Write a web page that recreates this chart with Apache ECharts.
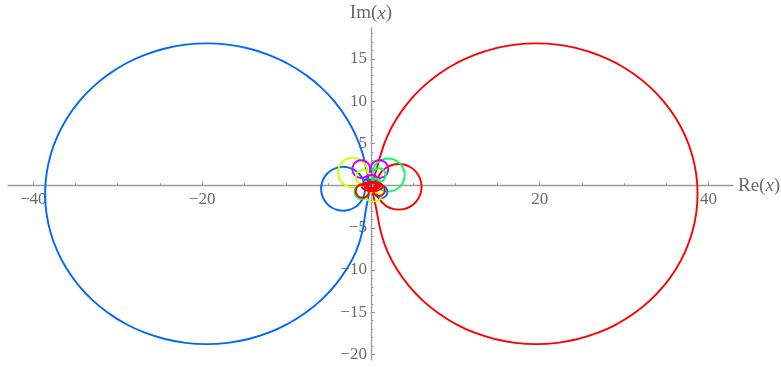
<!DOCTYPE html>
<html>
<head>
<meta charset="utf-8">
<script src="https://cdn.jsdelivr.net/npm/echarts@6/dist/echarts.min.js"></script>
<style>
html,body{margin:0;padding:0;background:#fff;}
#chart{width:781px;height:367px;}
</style>
</head>
<body>
<div id="chart"></div>
<script>
// ---- tick labels ----
const xMajorTicks = [-40, -20, 20, 40];
const xMinorTicks = [-40, -35, -30, -25, -20, -15, -10, -5, 5, 10, 15, 20, 25, 30, 35, 40];
const yMajorTicks = [-20, -15, -10, -5, 5, 10, 15];
const yMinorTicks = [-20,-19,-18,-17,-16,-15,-14,-13,-12,-11,-10,-9,-8,-7,-6,-5,-4,-3,-2,-1,1,2,3,4,5,6,7,8,9,10,11,12,13,14,15,16,17,18];

// ---- curves (Re, Im) ----
const blueBig = [[0,0],[-0.5,1.7],[-0.95,3.64],[-1.76,5.84],[-2.87,7.93],[-4.26,9.87],[-5.91,11.62],[-7.79,13.15],[-9.88,14.45],[-12.12,15.48],[-14.49,16.22],[-16.95,16.68],[-19.45,16.83],[-21.95,16.68],[-24.41,16.22],[-26.78,15.48],[-29.03,14.45],[-31.11,13.15],[-32.99,11.62],[-34.64,9.87],[-36.03,7.93],[-37.14,5.84],[-37.95,3.64],[-38.44,1.35],[-38.60,-0.97],[-38.44,-3.29],[-37.95,-5.58],[-37.14,-7.78],[-36.03,-9.87],[-34.64,-11.81],[-32.99,-13.56],[-31.11,-15.09],[-29.03,-16.39],[-26.78,-17.42],[-24.41,-18.16],[-21.95,-18.62],[-19.45,-18.77],[-16.95,-18.62],[-14.49,-18.16],[-12.12,-17.42],[-9.88,-16.39],[-7.79,-15.09],[-5.91,-13.56],[-4.26,-11.81],[-2.87,-9.87],[-1.76,-7.78],[-1.05,-5.58],[-0.55,-2.6],[0,0]];
const redBig = [[0,0],[0.6,1.7],[1.15,3.64],[1.95,5.84],[3.06,7.93],[4.45,9.87],[6.09,11.62],[7.97,13.15],[10.05,14.45],[12.29,15.48],[14.66,16.22],[17.11,16.68],[19.60,16.83],[22.09,16.68],[24.54,16.22],[26.91,15.48],[29.15,14.45],[31.23,13.15],[33.11,11.62],[34.75,9.87],[36.14,7.93],[37.25,5.84],[38.05,3.64],[38.54,1.35],[38.70,-0.97],[38.54,-3.29],[38.05,-5.58],[37.25,-7.78],[36.14,-9.87],[34.75,-11.81],[33.11,-13.56],[31.23,-15.09],[29.15,-16.39],[26.91,-17.42],[24.54,-18.16],[22.09,-18.62],[19.60,-18.77],[17.11,-18.62],[14.66,-18.16],[12.29,-17.42],[10.05,-16.39],[7.97,-15.09],[6.09,-13.56],[4.45,-11.81],[3.06,-9.87],[1.95,-7.78],[1.2,-5.58],[0.6,-2.6],[0,0]];
const blueLoop = [[-0.70,-0.38],[-0.79,0.29],[-1.05,0.92],[-1.46,1.46],[-2.0,1.87],[-2.63,2.13],[-3.3,2.22],[-3.97,2.13],[-4.6,1.87],[-5.14,1.46],[-5.55,0.92],[-5.81,0.29],[-5.9,-0.38],[-5.81,-1.05],[-5.55,-1.68],[-5.14,-2.22],[-4.6,-2.63],[-3.97,-2.89],[-3.3,-2.98],[-2.63,-2.89],[-2.0,-2.63],[-1.46,-2.22],[-1.05,-1.68],[-0.79,-1.05],[-0.70,-0.38]];
const redLoop = [[0.6,-0.15],[0.69,0.55],[0.96,1.2],[1.39,1.76],[1.95,2.19],[2.6,2.46],[3.3,2.55],[4.0,2.46],[4.65,2.19],[5.21,1.76],[5.64,1.2],[5.91,0.55],[6.0,-0.15],[5.91,-0.85],[5.64,-1.5],[5.21,-2.06],[4.65,-2.49],[4.0,-2.76],[3.3,-2.85],[2.6,-2.76],[1.95,-2.49],[1.39,-2.06],[0.96,-1.5],[0.69,-0.85],[0.6,-0.15]];
const yellowLoop = [[-0.40,1.55],[-0.53,2.22],[-0.91,2.79],[-1.48,3.17],[-2.15,3.30],[-2.82,3.17],[-3.39,2.79],[-3.77,2.22],[-3.90,1.55],[-3.77,0.88],[-3.39,0.31],[-2.82,-0.07],[-2.15,-0.20],[-1.48,-0.07],[-0.91,0.31],[-0.53,0.88],[-0.40,1.55]];
const greenLoop = [[0.10,1.25],[0.25,2.0],[0.67,2.63],[1.30,3.05],[2.05,3.2],[2.80,3.05],[3.43,2.63],[3.85,2.0],[4.0,1.25],[3.85,0.50],[3.43,-0.13],[2.80,-0.55],[2.05,-0.70],[1.30,-0.55],[0.67,-0.13],[0.25,0.50],[0.10,1.25]];
const magentaLoopL = [[-0.1,1.95],[-0.24,2.48],[-0.63,2.86],[-1.15,3.0],[-1.68,2.86],[-2.06,2.48],[-2.2,1.95],[-2.06,1.43],[-1.68,1.04],[-1.15,0.9],[-0.63,1.04],[-0.24,1.43],[-0.1,1.95]];
const magentaLoopR = [[-0.05,1.95],[0.09,2.48],[0.48,2.86],[1.0,3.0],[1.53,2.86],[1.91,2.48],[2.05,1.95],[1.91,1.43],[1.53,1.04],[1.0,0.9],[0.48,1.04],[0.09,1.43],[-0.05,1.95]];
const greenInnerUp = [[0.15,1.25],[0.38,1.82],[0.95,2.05],[1.52,1.82],[1.75,1.25],[1.52,0.68],[0.95,0.45],[0.38,0.68],[0.15,1.25]];
const yellowInnerUp = [[-0.1,1.0],[-0.35,1.6],[-0.95,1.85],[-1.55,1.6],[-1.8,1.0],[-1.55,0.4],[-0.95,0.15],[-0.35,0.4],[-0.1,1.0]];
const greenInnerLow = [[-0.25,-0.75],[-0.5,-0.15],[-1.1,0.1],[-1.7,-0.15],[-1.95,-0.75],[-1.7,-1.35],[-1.1,-1.6],[-0.5,-1.35],[-0.25,-0.75]];
const blueInnerLow = [[0.45,-0.75],[0.67,-0.22],[1.2,0.0],[1.73,-0.22],[1.95,-0.75],[1.73,-1.28],[1.2,-1.5],[0.67,-1.28],[0.45,-0.75]];
const yellowInnerLow = [[-0.6,-1.35],[-0.34,-0.96],[0.3,-0.8],[0.94,-0.96],[1.2,-1.35],[0.94,-1.74],[0.3,-1.9],[-0.34,-1.74],[-0.6,-1.35]];
const magentaInner = [[-0.55,0.85],[-0.36,1.13],[0.1,1.25],[0.56,1.13],[0.75,0.85],[0.56,0.57],[0.1,0.45],[-0.36,0.57],[-0.55,0.85]];
const blueInnerUp = [[0.1,0.4],[-0.05,0.65],[-0.4,0.75],[-0.75,0.65],[-0.9,0.4],[-0.75,0.15],[-0.4,0.05],[-0.05,0.15],[0.1,0.4]];
const greenInnerMid = [[0.1,0.45],[0.25,0.7],[0.6,0.8],[0.95,0.7],[1.1,0.45],[0.95,0.2],[0.6,0.1],[0.25,0.2],[0.1,0.45]];
const redLowL = [[-0.2,-0.65],[-0.43,-0.08],[-1.0,0.15],[-1.57,-0.08],[-1.8,-0.65],[-1.57,-1.22],[-1.0,-1.45],[-0.43,-1.22],[-0.2,-0.65]];
const redLowR = [[0.25,-0.55],[0.45,-0.05],[0.95,0.15],[1.45,-0.05],[1.65,-0.55],[1.45,-1.05],[0.95,-1.25],[0.45,-1.05],[0.25,-0.55]];
const redEll1 = [[-1.1,-0.1],[-0.93,0.18],[-0.48,0.38],[0.15,0.45],[0.78,0.38],[1.23,0.18],[1.4,-0.1],[1.23,-0.38],[0.78,-0.58],[0.15,-0.65],[-0.48,-0.58],[-0.93,-0.38],[-1.1,-0.1]];
const redEll2 = [[-0.75,-0.05],[-0.63,0.15],[-0.3,0.3],[0.15,0.35],[0.6,0.3],[0.93,0.15],[1.05,-0.05],[0.93,-0.25],[0.6,-0.4],[0.15,-0.45],[-0.3,-0.4],[-0.63,-0.25],[-0.75,-0.05]];
const redEll3 = [[-0.45,0],[-0.37,0.14],[-0.15,0.24],[0.15,0.28],[0.45,0.24],[0.67,0.14],[0.75,0],[0.67,-0.14],[0.45,-0.24],[0.15,-0.28],[-0.15,-0.24],[-0.37,-0.14],[-0.45,0]];

// ---- styling ----
const C = {red:'#ff0000', yellow:'#ccff00', green:'#00ff66', blue:'#0066ff', magenta:'#cc00ff'};
const curves = [
  [blueBig, C.blue], [redBig, C.red],
  [blueLoop, C.blue], [redLoop, C.red],
  [yellowLoop, C.yellow], [greenLoop, C.green],
  [magentaLoopL, C.magenta], [magentaLoopR, C.magenta],
  [greenInnerUp, C.green], [yellowInnerUp, C.yellow],
  [greenInnerLow, C.green], [blueInnerLow, C.blue],
  [yellowInnerLow, C.yellow], [magentaInner, C.magenta],
  [blueInnerUp, C.blue], [greenInnerMid, C.green],
  [redLowL, C.red], [redLowR, C.red],
  [redEll1, C.red], [redEll2, C.red], [redEll3, C.red]
];

const axisGray = '#9a9a9a';
const labelGray = '#6a6a6a';
const serif = 'Liberation Serif';
const fmt = v => String(v).replace('-', '\u2212');

const X_MIN = -43, X_MAX = 42.9, Y_MIN = -20.65, Y_MAX = 18.65;
const G = {left: 8, right: 48, top: 28, bottom: 7, W: 781, H: 367};
const gw = G.W - G.left - G.right, gh = G.H - G.top - G.bottom;
// place the axes through the origin (offset from grid edge)
const yAxisOffset = -((0 - X_MIN) / (X_MAX - X_MIN) * gw);
const xAxisOffset = -((0 - Y_MIN) / (Y_MAX - Y_MIN) * gh);

const chart = echarts.init(document.getElementById('chart'), null, {renderer: 'canvas'});
chart.setOption({
  animation: false,
  backgroundColor: '#ffffff',
  grid: {left: G.left, right: G.right, top: G.top, bottom: G.bottom, containLabel: false, outerBoundsMode: 'none'},
  xAxis: [
    {
      type: 'value', min: X_MIN, max: X_MAX, position: 'bottom', offset: xAxisOffset,
      axisLine: {onZero: false, lineStyle: {color: axisGray, width: 1.3}},
      axisTick: {show: true, inside: true, length: 4, customValues: xMajorTicks, lineStyle: {color: axisGray}},
      axisLabel: {customValues: xMajorTicks, formatter: fmt, color: labelGray, fontFamily: serif, fontSize: 17, margin: 5},
      splitLine: {show: false},
      name: 'Re({i|x})', nameLocation: 'end', nameGap: 5,
      nameTextStyle: {color: labelGray, fontFamily: serif, fontSize: 19, verticalAlign: 'middle',
        rich: {i: {fontStyle: 'italic', fontFamily: serif, fontSize: 19, color: labelGray}}}
    },
    {
      type: 'value', min: X_MIN, max: X_MAX, position: 'bottom', offset: xAxisOffset,
      axisLine: {show: false, onZero: false},
      axisTick: {show: true, inside: true, length: 2.5, customValues: xMinorTicks, lineStyle: {color: axisGray}},
      axisLabel: {show: false},
      splitLine: {show: false}
    }
  ],
  yAxis: [
    {
      type: 'value', min: Y_MIN, max: Y_MAX, position: 'left', offset: yAxisOffset,
      axisLine: {onZero: false, lineStyle: {color: axisGray, width: 1.3}},
      axisTick: {show: true, inside: true, length: 4, customValues: yMajorTicks, lineStyle: {color: axisGray}},
      axisLabel: {customValues: yMajorTicks, formatter: fmt, color: labelGray, fontFamily: serif, fontSize: 17, margin: 4},
      splitLine: {show: false},
      name: 'Im({i|x})', nameLocation: 'end', nameGap: 5,
      nameTextStyle: {color: labelGray, fontFamily: serif, fontSize: 19, align: 'center',
        rich: {i: {fontStyle: 'italic', fontFamily: serif, fontSize: 19, color: labelGray}}}
    },
    {
      type: 'value', min: Y_MIN, max: Y_MAX, position: 'left', offset: yAxisOffset,
      axisLine: {show: false, onZero: false},
      axisTick: {show: true, inside: true, length: 2.5, customValues: yMinorTicks, lineStyle: {color: axisGray}},
      axisLabel: {show: false},
      splitLine: {show: false}
    }
  ],
  series: curves.map(([pts, col]) => ({
    type: 'line', xAxisIndex: 0, yAxisIndex: 0,
    data: pts, showSymbol: false, symbol: 'none', smooth: 0.5,
    lineStyle: {color: col, width: 1.9}, silent: true, clip: false
  }))
});
</script>
</body>
</html>
